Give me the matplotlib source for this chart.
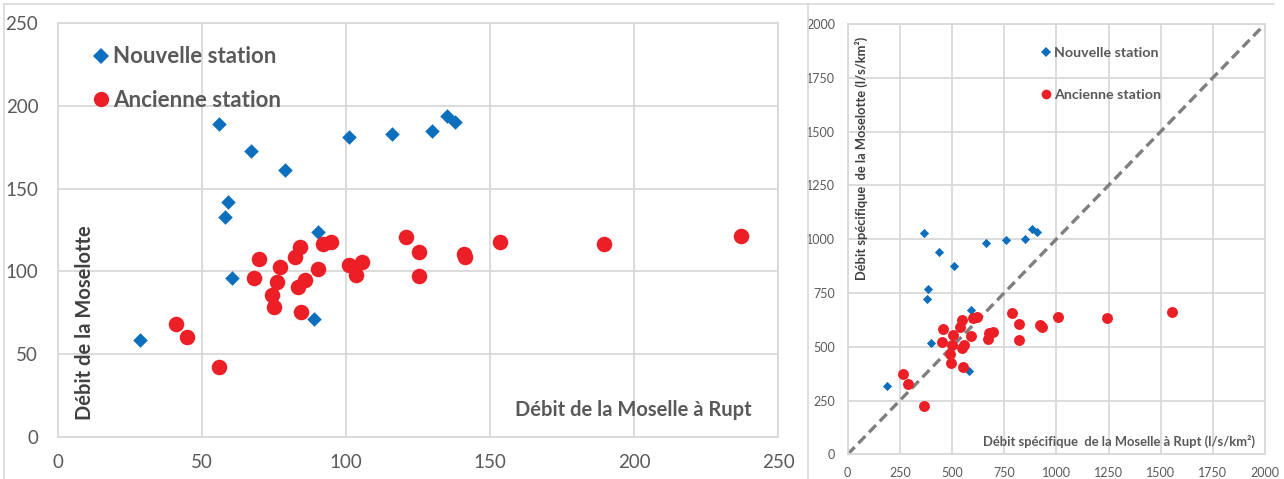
import matplotlib
matplotlib.use("Agg")
import matplotlib.pyplot as plt
from matplotlib.lines import Line2D

plt.rcParams['font.family'] = ['Lato', 'DejaVu Sans']

# ---------------- data: left chart (débit, m3/s) ----------------
new_x = [56, 67, 79, 59, 58, 101, 116, 130, 135, 138, 90.5, 60.5, 89, 28.5]
new_y = [189, 173, 161, 142, 133, 181, 183, 185, 194, 190, 124, 96, 71.5, 58.5]
old_x = [41, 45, 56, 68, 70, 77, 76, 74.5, 75, 82.5, 84, 83.5, 86, 84.5,
         90.5, 92, 95, 101, 103.5, 105.5, 121, 125.5, 125.5, 141, 141.5, 153.5, 189.5, 237]
old_y = [68.5, 60.5, 42, 96, 107.5, 102.5, 93.5, 85.5, 78.5, 108.5, 115, 90.5, 95, 75.5,
         101.5, 116.5, 117.5, 104, 98, 105.5, 120.5, 111.5, 97.5, 110.5, 108.5, 118, 116.5, 121.5]

# ---------------- data: right chart (débit spécifique, l/s/km²) ----------------
new_sx = [366, 439, 511, 661, 758, 851, 885, 906, 386, 380, 397, 589, 583, 187]
new_sy = [1028, 940, 876, 984, 994, 1003, 1047, 1033, 769, 721, 519, 671, 387, 319]
old_sx = [266, 291, 366, 458, 450, 506, 498, 490, 493, 538, 549, 546, 559, 554,
          589, 602, 618, 678, 674, 695, 789, 821, 821, 921, 930, 1006, 1241, 1552]
old_sy = [373, 327, 225, 581, 524, 555, 508, 466, 426, 593, 625, 493, 508, 407,
          550, 633, 640, 563, 535, 570, 656, 606, 532, 601, 591, 640, 633, 660]

left_ticks = [0, 50, 100, 150, 200, 250]
right_ticks = [0, 250, 500, 750, 1000, 1250, 1500, 1750, 2000]
diag = [0, 2000]

lab_new = "Nouvelle station"
lab_old = "Ancienne station"

BLUE = "#0B6FBE"
RED = "#EC1F27"
GRID = "#D9D9D9"
TXT = "#595959"
DARK = "#404040"

W, H = 1284, 479
fig = plt.figure(figsize=(W / 100, H / 100), dpi=100)


def px_axes(l, t, r, b):
    return fig.add_axes([l / W, 1 - b / H, (r - l) / W, (b - t) / H])


def style(ax, ticks, fs, xpad, ypad):
    ax.set_xlim(ticks[0], ticks[-1])
    ax.set_ylim(ticks[0], ticks[-1])
    ax.set_xticks(ticks)
    ax.set_yticks(ticks)
    ax.grid(True, color=GRID, linewidth=1.3, zorder=0)
    ax.set_axisbelow(True)
    for s in ax.spines.values():
        s.set_color(GRID)
        s.set_linewidth(1.3)
    ax.tick_params(length=0, labelsize=fs, labelcolor=TXT)
    ax.tick_params(axis='x', pad=xpad)
    ax.tick_params(axis='y', pad=ypad)


# ---------------- left chart ----------------
ax1 = px_axes(57.7, 23, 778, 437)
style(ax1, left_ticks, 13.5, 12, 14)
ax1.scatter(new_x, new_y, marker='D', s=55, color=BLUE, linewidths=0, zorder=3)
ax1.scatter(old_x, old_y, marker='o', s=125, color=RED, linewidths=0, zorder=3)
ax1.text(0.038, 0.041, "Débit de la Moselotte", transform=ax1.transAxes, rotation=90,
         ha='center', va='bottom', fontsize=14.5, fontweight='bold', color=DARK)
ax1.text(0.964, 0.065, "Débit de la Moselle à Rupt", transform=ax1.transAxes,
         ha='right', va='center', fontsize=14.5, fontweight='bold', color=TXT)
h1 = [Line2D([], [], ls='none', marker='D', ms=8, color=BLUE, mew=0),
      Line2D([], [], ls='none', marker='o', ms=11, color=RED, mew=0)]
ax1.legend(h1, [lab_new, lab_old], loc='upper left', bbox_to_anchor=(0.031, 0.965),
           frameon=False, prop={'weight': 'bold', 'size': 16},
           labelcolor=TXT, handletextpad=0.0, labelspacing=1.0, handlelength=1.1,
           borderaxespad=0)

# ---------------- right chart ----------------
ax2 = px_axes(847.7, 24, 1265, 454.3)
style(ax2, right_ticks, 9, 9, 9)
ax2.plot(diag, diag, ls=(0, (3, 1.6)), color="#7F7F7F", lw=2.4, zorder=2)
ax2.scatter(new_sx, new_sy, marker='D', s=22, color=BLUE, linewidths=0, zorder=3)
ax2.scatter(old_sx, old_sy, marker='o', s=62, color=RED, linewidths=0, zorder=3)
ax2.text(0.034, 0.405, "Débit spécifique  de la Moselotte (l/s/km²)", transform=ax2.transAxes,
         rotation=90, ha='center', va='bottom', fontsize=9.3, fontweight='bold', color=DARK)
ax2.text(0.976, 0.031, "Débit spécifique  de la Moselle à Rupt (l/s/km²)", transform=ax2.transAxes,
         ha='right', va='center', fontsize=9.4, fontweight='bold', color=TXT)
h2 = [Line2D([], [], ls='none', marker='D', ms=5.5, color=BLUE, mew=0),
      Line2D([], [], ls='none', marker='o', ms=7, color=RED, mew=0)]
ax2.legend(h2, [lab_new, lab_old], loc='upper left', bbox_to_anchor=(0.44, 0.961),
           frameon=False, prop={'weight': 'bold', 'size': 10.3},
           labelcolor=TXT, handletextpad=0.0, labelspacing=2.1, handlelength=1.2,
           borderaxespad=0)

# ---------------- panel borders ----------------
for xs, ys in [([4, 4], [H, 4]), ([4, 1274], [4, 4]), ([808, 808], [4, H])]:
    fig.add_artist(Line2D([x / W for x in xs], [1 - y / H for y in ys],
                          color=GRID, lw=1.2, transform=fig.transFigure))

fig.savefig("out.png", dpi=100)
